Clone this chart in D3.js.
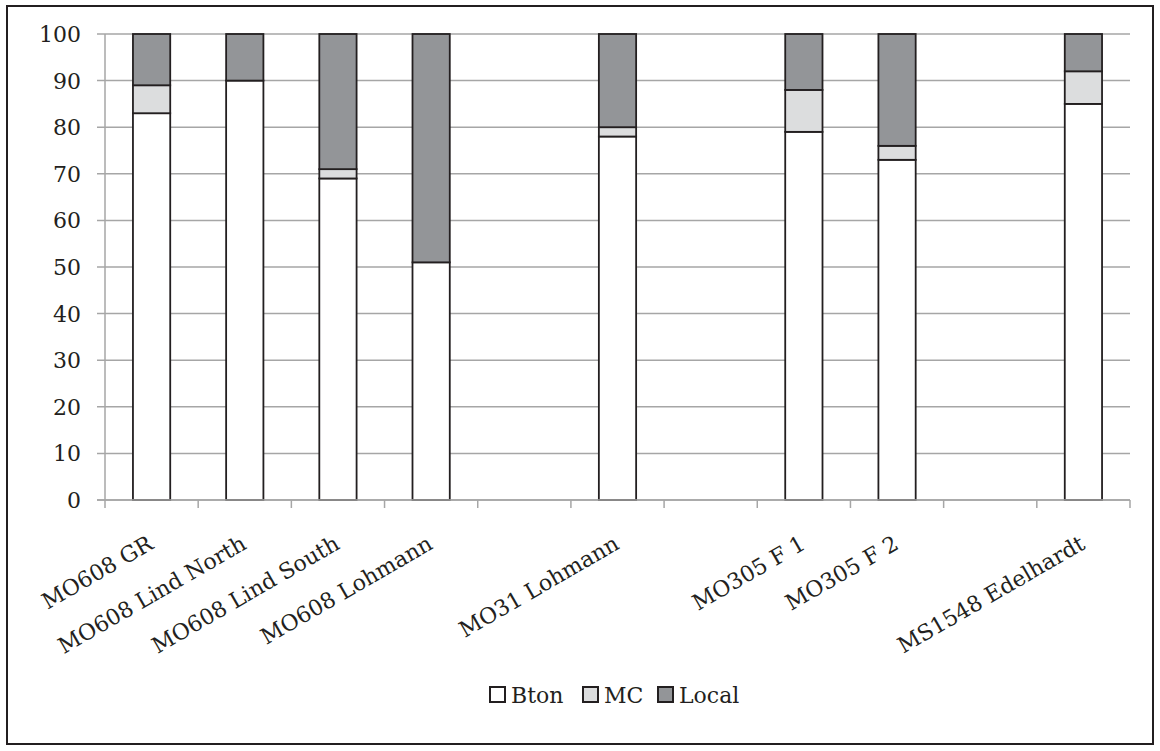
<!DOCTYPE html>
<html>
<head>
<meta charset="utf-8">
<script src="https://cdn.jsdelivr.net/npm/d3@7"></script>
<style>
  html, body { margin: 0; padding: 0; background: #fff; }
  svg text { font-family: "DejaVu Serif", "Liberation Serif", serif; fill: #231f20; }
</style>
</head>
<body>
<svg id="chart" width="1160" height="751"></svg>
<script>
// Sites along the x axis (blank entries are empty slots in the sequence)
const categories = ["MO608 GR", "MO608 Lind North", "MO608 Lind South", "MO608 Lohmann", "",
                    "MO31 Lohmann", "", "MO305 F 1", "MO305 F 2", "", "MS1548 Edelhardt"];
// Percentage shares per site
const bton  = [83, 90, 69, 51, null, 78, null, 79, 73, null, 85];
const mc    = [6, 0, 2, 0, null, 2, null, 9, 3, null, 7];
const local = [11, 10, 29, 49, null, 20, null, 12, 24, null, 8];
const seriesNames = ["Bton", "MC", "Local"];
const seriesColors = ["#ffffff", "#dcddde", "#939598"];
const yTicks = [0, 10, 20, 30, 40, 50, 60, 70, 80, 90, 100];

const svg = d3.select("#chart");
const ink = "#231f20";
const gridColor = "#a6a6a6";

// Outer frame
svg.append("rect")
  .attr("x", 7).attr("y", 6).attr("width", 1146).attr("height", 738)
  .attr("fill", "none").attr("stroke", ink).attr("stroke-width", 2);

const plot = { left: 105, right: 1130, top: 34, bottom: 500 };

const x = d3.scaleBand().domain(d3.range(categories.length))
  .range([plot.left, plot.right]).padding(0);
const y = d3.scaleLinear().domain([0, 100]).range([plot.bottom, plot.top]);

// Horizontal gridlines with short outer ticks
svg.append("g").selectAll("line").data(yTicks).join("line")
  .attr("x1", plot.left - 8).attr("x2", plot.right)
  .attr("y1", d => y(d)).attr("y2", d => y(d))
  .attr("stroke", gridColor).attr("stroke-width", 1.5);

// Y axis line
svg.append("line")
  .attr("x1", plot.left).attr("x2", plot.left)
  .attr("y1", y(100)).attr("y2", y(0))
  .attr("stroke", gridColor).attr("stroke-width", 1.5);

// Y tick labels
svg.append("g").selectAll("text").data(yTicks).join("text")
  .attr("x", 81).attr("y", d => y(d))
  .attr("dy", "0.36em")
  .attr("text-anchor", "end")
  .attr("font-size", 22)
  .text(d => d);

// X axis tick marks at category boundaries
const boundaries = d3.range(categories.length + 1).map(i =>
  i < categories.length ? x(i) : x(categories.length - 1) + x.step());
svg.append("g").selectAll("line").data(boundaries).join("line")
  .attr("x1", d => d).attr("x2", d => d)
  .attr("y1", plot.bottom).attr("y2", plot.bottom + 8)
  .attr("stroke", gridColor).attr("stroke-width", 1.5);

// Stacked bars
const rows = categories.map((c, i) => ({ i, Bton: bton[i], MC: mc[i], Local: local[i] }))
  .filter(r => r.Bton != null);
const stacked = d3.stack().keys(seriesNames)(rows);
const barW = x.bandwidth() * 0.4;

svg.append("g").selectAll("g").data(stacked).join("g")
  .attr("fill", (d, k) => seriesColors[k])
  .selectAll("rect").data(d => d).join("rect")
  .attr("x", d => x(d.data.i) + (x.bandwidth() - barW) / 2)
  .attr("width", barW)
  .attr("y", d => y(d[1]))
  .attr("height", d => y(d[0]) - y(d[1]))
  .attr("stroke", ink).attr("stroke-width", 1.8);

// X axis line
svg.append("line")
  .attr("x1", plot.left - 8).attr("x2", plot.right)
  .attr("y1", plot.bottom).attr("y2", plot.bottom)
  .attr("stroke", gridColor).attr("stroke-width", 1.5);

// Rotated category labels
svg.append("g").selectAll("text").data(categories.map((c, i) => ({ c, i })).filter(d => d.c))
  .join("text")
  .attr("transform", d => `translate(${x(d.i) + x.bandwidth() / 2 + 3},548) rotate(-30)`)
  .attr("text-anchor", "end")
  .attr("font-size", 22)
  .text(d => d.c);

// Legend
const legendX = [490, 583, 658];
const legend = svg.append("g").selectAll("g").data(seriesNames).join("g")
  .attr("transform", (d, k) => `translate(${legendX[k]},687)`);
legend.append("rect")
  .attr("width", 15).attr("height", 15)
  .attr("fill", (d, k) => seriesColors[k])
  .attr("stroke", ink).attr("stroke-width", 2);
legend.append("text")
  .attr("x", 21).attr("y", 16)
  .attr("font-size", 22)
  .text(d => d);
</script>
</body>
</html>
